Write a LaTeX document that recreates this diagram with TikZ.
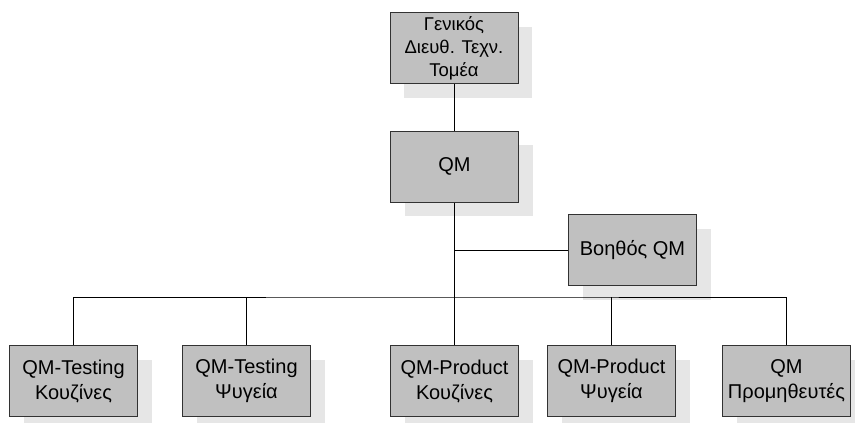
\documentclass[tikz,border=0pt]{standalone}
\usepackage{fontspec}
\setmainfont{Liberation Sans}
\usetikzlibrary{shadows}
\definecolor{boxfill}{RGB}{192,192,192}
\definecolor{shadowfill}{RGB}{230,230,230}
\definecolor{boxline}{RGB}{50,50,50}
\begin{document}
\begin{tikzpicture}[x=1pt,y=-1pt,
  unit/.style={rectangle, draw=boxline, line width=1pt, fill=boxfill,
    minimum width=128pt, minimum height=71pt, inner sep=0pt, align=center,
    font=\fontsize{20}{25}\selectfont,
    drop shadow={shadow xshift=14pt, shadow yshift=-14pt, fill=shadowfill, opacity=1}},
  link/.style={draw=black, line width=1pt}]
\useasboundingbox (0,0) rectangle (855,423);
\begin{scope}
\clip (0,0) rectangle (855,423);
% top management
\node[unit, font=\fontsize{18.5}{23}\selectfont] (gm) at (454,48) {Γενικός\\Διευθ. Τεχν.\\Τομέα};
\node[unit] (qm) at (454.5,166.5) {QM};
\node[unit] (asst) at (632.5,250) {Βοηθός QM};
% departments
\node[unit] (t1) at (73.5,381) {QM-Testing\\Κουζίνες};
\node[unit] (t2) at (246.5,381) {QM-Testing\\Ψυγεία};
\node[unit] (p1) at (454.5,381) {QM-Product\\Κουζίνες};
\node[unit] (p2) at (611.5,381) {QM-Product\\Ψυγεία};
\node[unit] (sup) at (786.5,381) {QM\\Προμηθευτές};
\end{scope}
% reporting lines
\coordinate (bus) at (454.5,297);
\draw[link] (gm.south) -- (gm.south |- qm.north);
\draw[link] (qm.south) -- (qm.south |- bus);
\draw[link] (asst.west) -- (asst.west -| qm.south);
\draw[link] (t1.north) |- (bus) -| (sup.north);
\draw[link] (t2.north) -- (t2.north |- bus);
\draw[link] (p1.north) -- (p1.north |- bus);
\draw[link] (p2.north) -- (p2.north |- bus);
\end{tikzpicture}
\end{document}
